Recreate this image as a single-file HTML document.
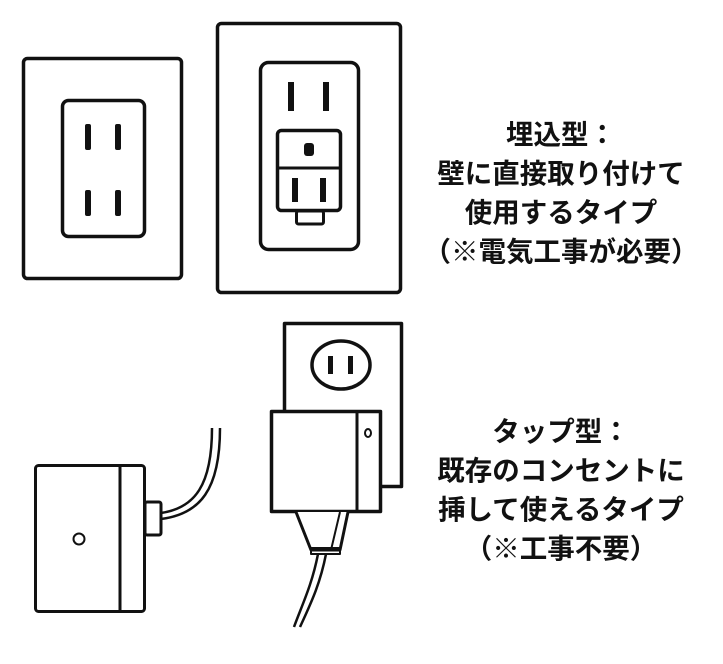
<!DOCTYPE html>
<html><head><meta charset="utf-8"><style>
html,body{margin:0;padding:0;background:#fff;}
body{width:723px;height:664px;position:relative;overflow:hidden;}
.t{position:absolute;left:410px;width:302px;text-align:center;font-family:"Liberation Sans","Noto Sans CJK JP",sans-serif;font-weight:bold;font-size:27.5px;line-height:39px;color:#111;}
</style></head><body>
<svg width="723" height="664" style="position:absolute;left:0;top:0" fill="none" stroke="#111" stroke-linejoin="round">
<rect x="23.5" y="58.5" width="158" height="220" rx="4" stroke-width="3.5"/>
<rect x="62.5" y="100.5" width="82" height="136" rx="6" stroke-width="3.5"/>
<g fill="#111" stroke="none">
<rect x="85" y="124" width="6" height="26" rx="2"/><rect x="115" y="124" width="6" height="26" rx="2"/>
<rect x="85" y="190" width="6" height="26" rx="2"/><rect x="115" y="190" width="6" height="26" rx="2"/>
</g>
<rect x="217.5" y="23.5" width="183" height="269" rx="4" stroke-width="3.5"/>
<rect x="260.5" y="62.5" width="98" height="187" rx="8" stroke-width="3.5"/>
<g fill="#111" stroke="none">
<rect x="288" y="82" width="6" height="29"/><rect x="323" y="82" width="6" height="29"/>
<rect x="292" y="178" width="6" height="24"/><rect x="320" y="178" width="6" height="24"/>
<rect x="304" y="143" width="10" height="13" rx="3"/>
</g>
<rect x="277.5" y="130.5" width="63" height="80" rx="4" stroke-width="3.5"/>
<line x1="277" y1="168" x2="341" y2="168" stroke-width="3"/>
<rect x="296.5" y="211" width="27" height="13" rx="2" stroke-width="3"/>
<rect x="284.5" y="323.5" width="117" height="163" stroke-width="3.5"/>
<ellipse cx="341" cy="365" rx="29" ry="24" stroke-width="3.5"/>
<g fill="#111" stroke="none"><rect x="328" y="356" width="5" height="18"/><rect x="348" y="356" width="5" height="18"/></g>
<rect x="271.5" y="411.5" width="109" height="100" fill="#fff" stroke-width="3.5"/>
<line x1="357" y1="411" x2="357" y2="512" stroke-width="3"/>
<ellipse cx="368" cy="433" rx="3" ry="4" stroke-width="2"/>
<path d="M296 512 L311 550 L340 550 L348 512" fill="#fff" stroke-width="3"/>
<line x1="340" y1="512" x2="331" y2="550" stroke-width="2"/>
<rect x="311" y="548" width="29" height="6" stroke-width="2"/>
<path d="M318 554 C312 585 302 605 294 627" stroke-width="2.5"/>
<path d="M326 554 C320 585 310 605 300 627" stroke-width="2.5"/>
<rect x="35.5" y="465.5" width="109" height="146" rx="3" stroke-width="3"/>
<line x1="120" y1="465" x2="120" y2="612" stroke-width="3"/>
<rect x="145" y="502" width="16" height="33" rx="2" stroke-width="3"/>
<circle cx="79" cy="539" r="5.5" stroke-width="2"/>
<path d="M161 513 C195 508 212 485 212 428" stroke-width="2.5"/>
<path d="M161 519 C200 514 220 490 220 428" stroke-width="2.5"/>
</svg>
<div class="t" style="top:115px">埋込型：<br>壁に直接取り付けて<br>使用するタイプ<br>（※電気工事が必要）</div>
<div class="t" style="top:412px">タップ型：<br>既存のコンセントに<br>挿して使えるタイプ<br>（※工事不要）</div>
</body></html>
